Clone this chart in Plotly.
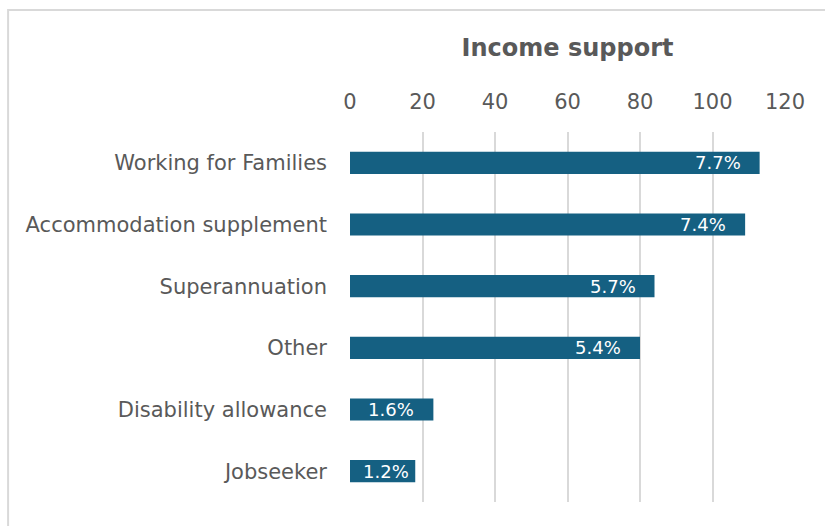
import plotly.graph_objects as go

categories = ["Working for Families", "Accommodation supplement", "Superannuation",
              "Other", "Disability allowance", "Jobseeker"]
values = [113, 109, 84, 80, 23, 18]
labels = ["7.7%", "7.4%", "5.7%", "5.4%", "1.6%", "1.2%"]
tick_vals = [0, 20, 40, 60, 80, 100, 120]

FONT = "DejaVu Sans, sans-serif"
GREY = "#595959"
BAR = "#156082"

ML, MR, MT, MB = 350, 40, 132, 24
W, H = 825, 526
XMAX = 120
plot_w = W - ML - MR

fig = go.Figure()
fig.add_trace(go.Bar(
    y=categories, x=values, orientation="h",
    marker=dict(color=BAR, line=dict(width=0)),
    width=0.36, hoverinfo="skip",
))

LABEL_W = 45  # approx rendered label width in px
for c, v, t in zip(categories, values, labels):
    bar_px = v / XMAX * plot_w
    pad = 17
    if bar_px - pad - LABEL_W < 16:
        pad = max(2, bar_px - LABEL_W - 16)
    fig.add_annotation(x=v, y=c, text=t, xanchor="right", yanchor="middle",
                       xshift=-pad, showarrow=False,
                       font=dict(family=FONT, size=18, color="white"))

# outer chart border (left & top visible)
fig.add_shape(type="rect", xref="paper", yref="paper",
              x0=-0.786, x1=1.11, y0=-0.08, y1=1.33,
              line=dict(color="#d9d9d9", width=2), fillcolor="rgba(0,0,0,0)",
              layer="below")

fig.update_layout(
    width=W, height=H,
    margin=dict(l=ML, r=MR, t=MT, b=MB),
    paper_bgcolor="white", plot_bgcolor="white",
    showlegend=False,
    title=dict(text="<b>Income support</b>", x=0.5, xanchor="center",
               y=1 - 48 / H, yanchor="middle", xref="paper",
               font=dict(family=FONT, size=24, color=GREY)),
    xaxis=dict(side="top", range=[0, XMAX], tickvals=tick_vals,
               showgrid=True, gridcolor="#d9d9d9", gridwidth=1.5,
               zeroline=False, showline=False, ticks="",
               tickfont=dict(family=FONT, size=21, color=GREY),
               ticklabelstandoff=18, fixedrange=True),
    yaxis=dict(categoryorder="array", categoryarray=categories[::-1],
               showgrid=False, zeroline=False, showline=False, ticks="",
               tickfont=dict(family=FONT, size=21, color=GREY),
               ticklabelstandoff=22, fixedrange=True),
)

fig.write_html("out.html")
